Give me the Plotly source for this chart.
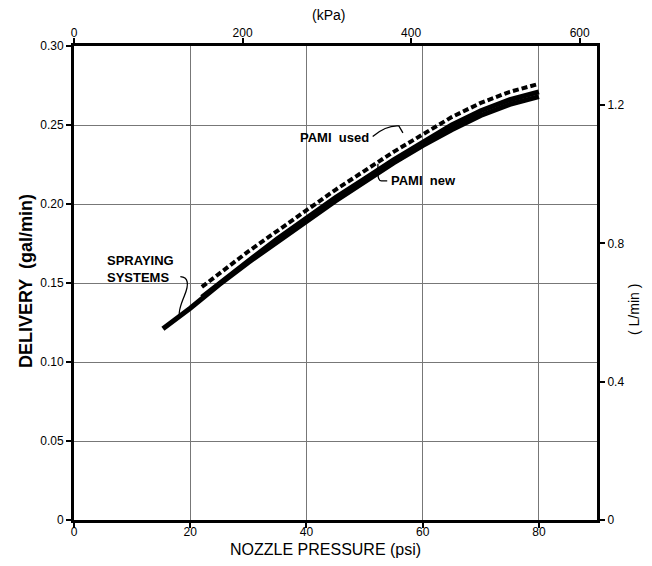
import plotly.graph_objects as go

# ---- data ----
psi_ss = [15.3, 20, 25, 30, 35, 40, 45, 50, 55, 60, 65, 70, 75, 80]
gal_ss = [0.121, 0.134, 0.149, 0.163, 0.176, 0.189, 0.202, 0.214, 0.226, 0.237, 0.247, 0.256, 0.263, 0.268]

psi_new = [22, 25, 30, 35, 40, 45, 50, 55, 60, 65, 70, 75, 80]
gal_new = [0.141, 0.150, 0.164, 0.178, 0.191, 0.204, 0.216, 0.228, 0.239, 0.250, 0.259, 0.266, 0.271]

psi_used = [22, 25, 30, 35, 40, 45, 50, 55, 60, 65, 70, 75, 80]
gal_used = [0.1475, 0.156, 0.170, 0.183, 0.196, 0.209, 0.221, 0.233, 0.244, 0.255, 0.264, 0.271, 0.276]

x_ticks = [0, 20, 40, 60, 80]
y_ticks = [0, 0.05, 0.10, 0.15, 0.20, 0.25, 0.30]
y_labels = ["0", "0.05", "0.10", "0.15", "0.20", "0.25", "0.30"]
kpa_ticks = [0, 200, 400, 600]
lmin_ticks = [0, 0.4, 0.8, 1.2]
lmin_labels = ["0", "0.4", "0.8", "1.2"]

PSI_MAX = 90
KPA_PER_PSI = 6.895
LMIN_MAX = 1.371

FONT = "Liberation Sans"
W, H = 652, 566
ML, MR, MT, MB = 74, 55, 46, 46

fig = go.Figure()
fig.add_trace(go.Scatter(x=psi_ss, y=gal_ss, mode="lines",
                         line=dict(color="black", width=5), showlegend=False))
fig.add_trace(go.Scatter(x=psi_new, y=gal_new, mode="lines",
                         line=dict(color="black", width=5), showlegend=False))
fig.add_trace(go.Scatter(x=psi_used, y=gal_used, mode="lines",
                         line=dict(color="black", width=4, dash="6px,3px"), showlegend=False))
# invisible trace to carry the secondary axes
fig.add_trace(go.Scatter(x=[0], y=[0], xaxis="x2", yaxis="y2", mode="markers",
                         marker=dict(opacity=0), showlegend=False, hoverinfo="skip"))

axis_common = dict(showline=True, linecolor="black", linewidth=3, ticks="outside",
                   ticklen=5, tickwidth=2, tickcolor="black", zeroline=False,
                   automargin=False,
                   tickfont=dict(family=FONT, size=12, color="black"))

fig.update_layout(
    width=W, height=H,
    margin=dict(l=ML, r=MR, t=MT, b=MB),
    paper_bgcolor="white", plot_bgcolor="white",
    xaxis=dict(range=[0, PSI_MAX], tickvals=x_ticks, showgrid=True, ticklabelstandoff=-6,
               gridcolor="#777777", gridwidth=1, **axis_common),
    yaxis=dict(range=[0, 0.30], tickvals=y_ticks, ticktext=y_labels, showgrid=True,
               gridcolor="#777777", gridwidth=1, **axis_common),
    xaxis2=dict(range=[0, PSI_MAX * KPA_PER_PSI], tickvals=kpa_ticks, overlaying="x",
                side="top", showgrid=False, ticklabelstandoff=-4, **axis_common),
    yaxis2=dict(range=[0, LMIN_MAX], tickvals=lmin_ticks, ticktext=lmin_labels, overlaying="y",
                side="right", showgrid=False, **axis_common),
)

PW, PH = W - ML - MR, H - MT - MB

def px_x(p):
    return (p - ML) / PW

def px_y(p):
    return (H - MB - p) / PH

title_font = dict(family=FONT, color="black")
fig.add_annotation(xref="paper", yref="paper", x=px_x(325), y=px_y(549),
                   text="NOZZLE PRESSURE (psi)", showarrow=False,
                   font=dict(size=16, **title_font), xanchor="center", yanchor="middle")
fig.add_annotation(xref="paper", yref="paper", x=px_x(26), y=px_y(281),
                   text="<b>DELIVERY  (gal/min)</b>", showarrow=False, textangle=-90,
                   font=dict(size=18, **title_font), xanchor="center", yanchor="middle")
fig.add_annotation(xref="paper", yref="paper", x=px_x(328), y=px_y(15),
                   text="(kPa)", showarrow=False,
                   font=dict(size=14, **title_font), xanchor="center", yanchor="middle")
fig.add_annotation(xref="paper", yref="paper", x=px_x(634), y=px_y(310),
                   text="( L/min )", showarrow=False, textangle=-90,
                   font=dict(size=14, **title_font), xanchor="center", yanchor="middle")

ann_font = dict(family=FONT, size=13, color="black")
fig.add_annotation(x=5.4, y=0.159, text="<b>SPRAYING<br>SYSTEMS</b>", showarrow=False,
                   font=ann_font, align="left", xanchor="left", yanchor="middle")
fig.add_annotation(x=44.9, y=0.2424, text="<b>PAMI  used</b>", showarrow=False,
                   font=ann_font, xanchor="center", yanchor="middle")
fig.add_annotation(x=54.2, y=0.2146, text="<b>PAMI  new</b>", showarrow=False,
                   font=ann_font, xanchor="left", yanchor="middle")

# hand-drawn style leader lines (data coordinates)
leader = dict(type="path", xref="x", yref="y", line=dict(color="black", width=1.3))
fig.add_shape(path="M 18.3,0.1540 Q 20.3,0.1535 19.0,0.1420 T 18.3,0.1285", **leader)
fig.add_shape(path="M 51.4,0.2428 Q 53.8,0.2500 55.9,0.2494 L 56.6,0.2450", **leader)
fig.add_shape(path="M 53.9,0.2146 L 52.9,0.2146 Q 52.3,0.2146 52.3,0.2200 L 52.3,0.2255", **leader)

fig.write_html("out.html")
